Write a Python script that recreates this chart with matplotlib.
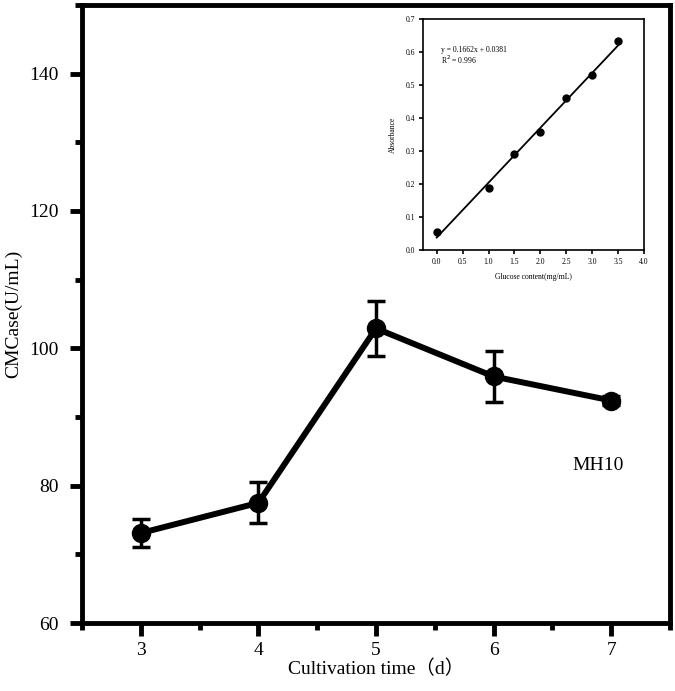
import matplotlib
matplotlib.use("Agg")
import matplotlib.pyplot as plt
from matplotlib.ticker import MultipleLocator

# Main data: CMCase activity over cultivation time
days = [3, 4, 5, 6, 7]
cmcase = [73.1, 77.5, 102.9, 95.9, 92.4]
cmcase_err = [2.0, 3.0, 4.0, 3.7, 0.6]

# Inset: glucose standard curve
glucose = [0.0, 1.0, 1.5, 2.0, 2.5, 3.0, 3.5]
absorbance = [0.055, 0.188, 0.290, 0.358, 0.460, 0.530, 0.632]
fit_slope = 0.1662
fit_intercept = 0.0381

serif = ['Liberation Serif', 'Noto Sans CJK SC']
plt.rcParams['font.family'] = serif

fig = plt.figure(figsize=(6.75, 6.91), dpi=100)
ax = fig.add_axes([0.1215, 0.0984, 0.8711, 0.8944])

ax.errorbar(days, cmcase, yerr=cmcase_err, color='black', lw=4.3,
            marker='o', ms=13, capsize=6.5, capthick=2.5, elinewidth=2.5)
ax.set_xlim(2.5, 7.5)
ax.set_ylim(60, 150)
ax.xaxis.set_major_locator(MultipleLocator(1))
ax.xaxis.set_minor_locator(MultipleLocator(0.5))
ax.yaxis.set_major_locator(MultipleLocator(20))
ax.yaxis.set_minor_locator(MultipleLocator(10))
ax.set_yticks([60, 80, 100, 120, 140])
for s in ax.spines.values():
    s.set_linewidth(3.5)
ax.tick_params(which='major', direction='out', length=9, width=3.5, labelsize=14, pad=8)
ax.tick_params(which='minor', direction='out', length=5, width=3.5)
ax.tick_params(axis='x', pad=5)
ax.set_xlabel('Cultivation time（d）', fontsize=14, labelpad=0, family=serif)
ax.set_ylabel('CMCase(U/mL)', fontsize=14)
ax.yaxis.set_label_coords(-0.102, 0.5)
ax.text(6.89, 83, 'MH10', fontsize=14, ha='center', va='center')

# Inset standard curve
ins = fig.add_axes([0.627, 0.638, 0.327, 0.3345])
ins.plot(glucose, absorbance, 'o', color='black', ms=5)
xs = [glucose[0], glucose[-1]]
ins.plot(xs, [fit_slope * x + fit_intercept for x in xs], color='black', lw=1.3)
ins.set_xlim(-0.26, 4.0)
ins.set_ylim(0, 0.7)
ins.xaxis.set_major_locator(MultipleLocator(0.5))
ins.yaxis.set_major_locator(MultipleLocator(0.1))
ins.xaxis.set_major_formatter(plt.FormatStrFormatter('%.1f'))
ins.yaxis.set_major_formatter(plt.FormatStrFormatter('%.1f'))
for s in ins.spines.values():
    s.set_linewidth(1.2)
ins.tick_params(direction='out', length=3, width=1.2, labelsize=5.5, pad=3)
ins.set_xlabel('Glucose content(mg/mL)', fontsize=5.5, labelpad=5)
ins.set_ylabel('Absorbance', fontsize=5.5, labelpad=6)
ins.text(0.08, 0.606, 'y = %.4fx + %.4f' % (fit_slope, fit_intercept), fontsize=5.5, va='center')
ins.text(0.08, 0.575, 'R$^2$ = 0.996', fontsize=5.5, va='center')

fig.savefig('out.png', dpi=100)
